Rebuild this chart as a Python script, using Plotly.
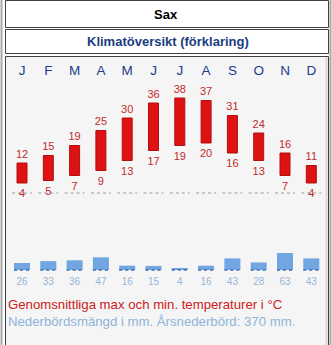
import plotly.graph_objects as go

months = ["J", "F", "M", "A", "M", "J", "J", "A", "S", "O", "N", "D"]
t_max = [12, 15, 19, 25, 30, 36, 38, 37, 31, 24, 16, 11]
t_min = [4, 5, 7, 9, 13, 17, 19, 20, 16, 13, 7, 4]
precip = [26, 33, 36, 47, 16, 15, 4, 16, 43, 28, 63, 43]

W, H = 332, 345
idx = list(range(len(months)))

def py(px):
    return 1 - px / H

def px_x(px):
    return px / W

fig = go.Figure()

# temperature bars
fig.add_trace(go.Bar(
    x=idx, y=[a - b for a, b in zip(t_max, t_min)], base=t_min, width=0.38,
    marker=dict(color="#de1212", line=dict(color="#b01010", width=1)),
    hoverinfo="skip", showlegend=False))

# precipitation bars
fig.add_trace(go.Bar(
    x=idx, y=precip, width=0.61, yaxis="y2",
    marker=dict(color="#72a6e2", line=dict(width=0)),
    hoverinfo="skip", showlegend=False))

# zero dotted lines (temperature)
zx, zy = [], []
for i in idx:
    zx += [i - 0.38, i + 0.38, None]
    zy += [0, 0, None]
fig.add_trace(go.Scatter(x=zx, y=zy, mode="lines",
                         line=dict(color="#9a9a9a", width=1, dash="dot"),
                         hoverinfo="skip", showlegend=False))

# precip baseline dotted
bx, by = [], []
for i in idx:
    bx += [i - 0.305, i + 0.305, None]
    by += [0, 0, None]
fig.add_trace(go.Scatter(x=bx, y=by, mode="lines", yaxis="y2",
                         line=dict(color="#3f6fb0", width=1.5, dash="dot"),
                         hoverinfo="skip", showlegend=False))

# labels
fig.add_trace(go.Scatter(x=idx, y=[v + 3.2 for v in t_max], mode="text",
                         text=[str(v) for v in t_max],
                         textfont=dict(family="Liberation Sans, Arial", size=11, color="#c22a2a"),
                         hoverinfo="skip", showlegend=False))
fig.add_trace(go.Scatter(x=idx, y=[v - 4.6 for v in t_min], mode="text",
                         text=[str(v) for v in t_min],
                         textfont=dict(family="Liberation Sans, Arial", size=11, color="#c22a2a"),
                         hoverinfo="skip", showlegend=False))
fig.add_trace(go.Scatter(x=idx, y=[-45] * len(idx), mode="text", yaxis="y2",
                         text=[str(v) for v in precip],
                         textfont=dict(family="Liberation Sans, Arial", size=10, color="#95b6d8"),
                         hoverinfo="skip", showlegend=False))
fig.add_trace(go.Scatter(x=idx, y=[48.6] * len(idx), mode="text",
                         text=months,
                         textfont=dict(family="Liberation Sans, Arial", size=13.5, color="#1e3c8c"),
                         hoverinfo="skip", showlegend=False))

shapes = [
    dict(type="line", xref="paper", yref="paper", x0=px_x(1.5), x1=px_x(1.5), y0=0, y1=1,
         line=dict(color="#a8a8a8", width=2)),
    dict(type="line", xref="paper", yref="paper", x0=px_x(330.5), x1=px_x(330.5), y0=0, y1=1,
         line=dict(color="#a8a8a8", width=2)),
    dict(type="rect", xref="paper", yref="paper", x0=px_x(5.5), x1=px_x(328.5), y0=py(0.5), y1=py(27.5),
         line=dict(color="#404040", width=1), fillcolor="white", layer="below"),
    dict(type="rect", xref="paper", yref="paper", x0=px_x(5.5), x1=px_x(328.5), y0=py(29.5), y1=py(53.5),
         line=dict(color="#404040", width=1), fillcolor="white", layer="below"),
    dict(type="rect", xref="paper", yref="paper", x0=px_x(5.5), x1=px_x(328.5), y0=py(56.5), y1=py(350),
         line=dict(color="#404040", width=1), fillcolor="#f5f5f5", layer="below"),
    dict(type="line", xref="paper", yref="paper", x0=px_x(326.5), x1=px_x(326.5), y0=py(57), y1=0,
         line=dict(color="#d8d8d8", width=2), layer="below"),
]

annotations = [
    dict(text="<b>Sax</b>", x=px_x(166), y=py(14.5), xref="paper", yref="paper", showarrow=False,
         xanchor="center", yanchor="middle",
         font=dict(family="Liberation Sans, Arial", size=13, color="#000000")),
    dict(text="<b>Klimatöversikt (förklaring)</b>", x=px_x(168), y=py(41.5), xref="paper", yref="paper",
         showarrow=False, xanchor="center", yanchor="middle",
         font=dict(family="Liberation Sans, Arial", size=13, color="#1a3c80")),
    dict(text="Genomsnittliga max och min. temperaturer i °C", x=px_x(6), y=py(304), xref="paper",
         yref="paper", xanchor="left", yanchor="middle", showarrow=False,
         font=dict(family="Liberation Sans, Arial", size=13.2, color="#cc2020")),
    dict(text=f"Nederbördsmängd i mm. Årsnederbörd: {sum(precip)} mm.", x=px_x(6), y=py(321),
         xref="paper", yref="paper", xanchor="left", yanchor="middle", showarrow=False,
         font=dict(family="Liberation Sans, Arial", size=13.2, color="#8fb4dc")),
]

fig.update_layout(
    width=W, height=H, margin=dict(l=0, r=0, t=0, b=0, pad=0),
    paper_bgcolor="white", plot_bgcolor="white", barmode="overlay",
    xaxis=dict(range=[-22 / 26.3, (W - 22) / 26.3], visible=False, fixedrange=True),
    yaxis=dict(range=[(193 - H) / 2.5, 193 / 2.5], visible=False, fixedrange=True),
    yaxis2=dict(range=[(270 - H) / 0.27, 270 / 0.27], visible=False, overlaying="y", fixedrange=True),
    shapes=shapes, annotations=annotations,
)

fig.write_html("out.html", config={"displayModeBar": False})
